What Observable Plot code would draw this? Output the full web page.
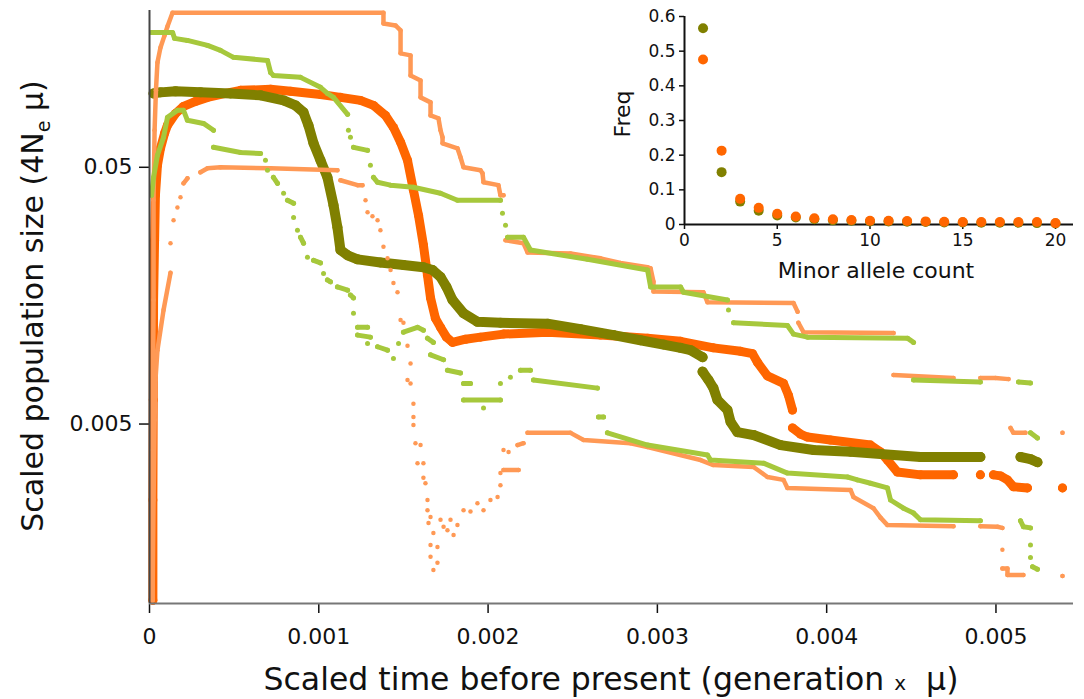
<!DOCTYPE html>
<html><head><meta charset="utf-8">
<script src="https://cdn.jsdelivr.net/npm/d3@7"></script>
<script src="https://cdn.jsdelivr.net/npm/@observablehq/plot@0.6"></script>
<style>
html,body{margin:0;padding:0;background:#fff;}
#chart{position:relative;width:1084px;height:699px;}
#chart > svg{position:absolute;left:0;top:0;}
</style></head><body><div id="chart"></div>
<script>
// ---- main chart data: [scaled time, scaled population size]; null = gap ----
const olive = [
[0.000024,0.0970],[0.000065,0.0979],[0.000154,0.0988],[0.000301,0.0979],[0.000478,0.0970],[0.000656,0.0953],[0.000792,0.0911],[0.000862,0.0871],[0.000910,0.0818],[0.000939,0.0728],[0.000969,0.0620],[0.00101,0.0532],[0.001051,0.0457],[0.001087,0.0356],[0.00111,0.0292],[0.001128,0.0238],[0.00117,0.0227],[0.001229,0.0219],[0.001364,0.0213],[0.0015,0.0208],[0.001618,0.0204],[0.001672,0.0199],[0.001719,0.0187],[0.001754,0.0171],[0.00179,0.0152],[0.001855,0.0135],[0.001937,0.0125],[0.002073,0.0124],[0.002351,0.0123],[0.002546,0.0117],[0.002741,0.0111],[0.0029,0.0106],[0.003036,0.0102],[0.003137,0.0099],[0.003196,0.0097],[0.003267,0.0091],null,
[0.003267,0.0080],[0.003302,0.00742],[0.003331,0.0069],[0.003355,0.0062],[0.003414,0.00567],[0.003432,0.0051],[0.003473,0.00465],[0.003568,0.00453],[0.003727,0.00414],[0.003922,0.00396],[0.004141,0.0039],[0.004554,0.00372],[0.004908,0.00372],null,
[0.005145,0.00372],[0.005204,0.00365],[0.005245,0.00355]];

const orange = [
[0.00002,0.00103],[0.00002,0.00253],[0.000022,0.0062],[0.000024,0.0152],[0.00003,0.026],[0.000035,0.0389],[0.000047,0.0509],[0.000065,0.0593],[0.000089,0.0678],[0.000106,0.0728],[0.000154,0.0810],[0.000201,0.0863],[0.000272,0.0903],[0.000343,0.0936],[0.000449,0.0970],[0.000538,0.0997],[0.000715,0.1006],[0.000833,0.0988],[0.00101,0.0961],[0.001128,0.0936],[0.001246,0.0911],[0.001323,0.0871],[0.001394,0.0796],[0.001441,0.0715],[0.001483,0.0626],[0.001524,0.0532],[0.001559,0.0407],[0.001589,0.0325],[0.001618,0.0249],[0.001642,0.0190],[0.00166,0.0155],[0.001689,0.0129],[0.001719,0.0119],[0.001754,0.0109],[0.00179,0.0104],[0.001867,0.0107],[0.001955,0.0109],[0.002091,0.0112],[0.002351,0.0114],[0.002664,0.0111],[0.002942,0.0108],[0.003137,0.0105],[0.003331,0.0099],[0.003491,0.0096],[0.003562,0.0094],[0.003591,0.0087],[0.00365,0.0077],[0.003745,0.0072],[0.003774,0.00648],[0.003798,0.00567],null,
[0.003798,0.00483],[0.003845,0.00457],[0.003887,0.00445],[0.004022,0.00433],[0.004259,0.00414],[0.004318,0.00389],[0.004359,0.00362],[0.004418,0.00325],[0.004554,0.00317],[0.004749,0.00317],null,
[0.004908,0.00317],null,
[0.004985,0.00317],[0.005027,0.00314],[0.005068,0.00303],[0.005103,0.00285],[0.005186,0.00282],null,
[0.005393,0.00282]];

const orangeHi = [
[0.000018,0.00103],[0.000018,0.00396],[0.000024,0.0152],[0.000024,0.0372],[0.00003,0.0697],[0.000038,0.0997],[0.000047,0.1281],[0.000065,0.1465],[0.000089,0.1632],[0.000106,0.1768],[0.000136,0.2],[0.001382,0.2],[0.001382,0.1815],[0.001453,0.1784],[0.001483,0.1706],[0.001483,0.1389],[0.001542,0.1364],[0.001542,0.1140],[0.001601,0.1090],[0.001601,0.0936],[0.00166,0.0895],[0.00166,0.0796],[0.001707,0.0775],[0.001719,0.0697],[0.001731,0.0654],[0.001731,0.0620],[0.001819,0.0593],[0.001837,0.0547],[0.001855,0.05],[0.001955,0.0487],[0.001967,0.0474],[0.001973,0.0437],[0.002061,0.0426],[0.002073,0.0389],[0.002091,0.0389],null,
[0.002103,0.0260],[0.002209,0.0253],[0.002233,0.0233],[0.002487,0.0231],[0.002664,0.0221],[0.002782,0.0212],[0.002942,0.0204],[0.00296,0.0202],[0.002977,0.0179],[0.002977,0.0164],[0.003272,0.0163],[0.003296,0.0149],[0.003804,0.0148],[0.003828,0.0137],null,
[0.003833,0.0124],[0.003863,0.0114],[0.004395,0.0113],null,
[0.004395,0.00776],[0.004749,0.00755],null,
[0.004908,0.00755],[0.004997,0.00755],[0.005074,0.00748],null,
[0.005086,0.00483],[0.005103,0.00462],[0.005174,0.00462],null,
[0.005393,0.00462]];

const orangeLo = [
[0.000018,0.00103],[0.000024,0.00253],[0.00003,0.00518],[0.000035,0.00742],[0.000047,0.0097],[0.000083,0.0139],[0.000124,0.0194],null,
[0.000201,0.0433],[0.000224,0.0453],null,
[0.000301,0.0478],[0.000343,0.0496],[0.000419,0.05],[0.000715,0.0496],[0.00111,0.0487],null,
[0.001128,0.0445],[0.001229,0.0426],[0.001258,0.0426],null,
[0.002091,0.00331],[0.00218,0.00331],null,
[0.002174,0.00414],[0.002209,0.00421],null,
[0.002233,0.00462],[0.002487,0.00462],[0.002564,0.00433],[0.002841,0.00421],[0.002942,0.00407],[0.003255,0.00362],[0.003331,0.00346],[0.003568,0.0034],[0.00365,0.00311],[0.003745,0.00303],[0.003768,0.00282],[0.004141,0.00277],[0.004158,0.0026],[0.004276,0.00235],[0.004318,0.00216],[0.004359,0.00202],[0.004749,0.002],null,
[0.004908,0.002],[0.005009,0.00199],[0.005038,0.00197],null,
[0.005038,0.00137],[0.005068,0.00137],[0.005068,0.00129],[0.005162,0.00129],null,
[0.005393,0.00128]];
const orangeLoDots = [
[0.000124,0.0253],[0.000142,0.0311],[0.000165,0.0349],[0.000183,0.0382],[0.005038,0.00162],
[0.001276,0.0372],[0.001288,0.0334],[0.001317,0.0322],[0.001347,0.0311],[0.001364,0.0284],[0.001382,0.0245],[0.001406,0.0221],[0.001424,0.0199],[0.001441,0.0177],[0.001465,0.0163],[0.001483,0.0127],[0.0015,0.0124],[0.001524,0.0101],[0.001542,0.0086],[0.001524,0.00742],[0.001542,0.0072],[0.001559,0.006],[0.001559,0.00532],[0.001559,0.00496],[0.001571,0.00421],[0.001601,0.00414],[0.001583,0.00352],[0.001618,0.00352],[0.001618,0.00309],[0.00163,0.00294],[0.001642,0.00253],[0.001642,0.00231],[0.00166,0.00217],[0.001648,0.00206],[0.001677,0.00188],[0.00166,0.00169],[0.001701,0.00166],[0.00166,0.00152],[0.001701,0.00144],[0.001677,0.00135],
[0.001719,0.00212],[0.001737,0.00199],[0.00176,0.00193],[0.001778,0.00212],[0.001796,0.00185],[0.001819,0.00202],[0.001855,0.00231],[0.001896,0.00228],[0.001937,0.00246],[0.001973,0.00231],[0.002014,0.00253],[0.002056,0.0026],[0.002073,0.00289],[0.002073,0.00322],[0.002091,0.00396],[0.002121,0.00389]];

const greenHi = [
[0.000012,0.1676],[0.000136,0.1676],[0.000148,0.1589],[0.000224,0.156],[0.000343,0.1492],[0.000419,0.1427],[0.000496,0.134],[0.000697,0.1304],[0.000715,0.1171],[0.000732,0.114],[0.000892,0.112],[0.00101,0.1024],[0.001051,0.097],[0.001087,0.0936],[0.00117,0.0804],null,
[0.001205,0.0598],[0.001288,0.0582],null,
[0.001323,0.0457],[0.001347,0.0437],[0.001424,0.0426],[0.001559,0.0418],[0.001719,0.0396],[0.001819,0.0372],[0.002073,0.0372],null,
[0.002115,0.0267],[0.002209,0.0267],[0.00225,0.0238],[0.002587,0.0219],[0.002942,0.0199],[0.00296,0.0171],[0.003137,0.0171],[0.003154,0.0163],[0.003414,0.0152],null,
[0.00345,0.0124],[0.003768,0.0121],[0.003804,0.0112],[0.003887,0.0109],[0.004477,0.0108],[0.004513,0.0104],null,
[0.004513,0.00742],[0.004908,0.00729],null,
[0.005133,0.00729],[0.005204,0.00722],null,
[0.005204,0.00462],[0.005245,0.00441]];
const greenHiDots = [[0.001175,0.0697],[0.001187,0.0654],[0.001305,0.0509],[0.002085,0.0331],[0.002103,0.0297],[0.00342,0.0139]];

const greenLo = [
[0.000012,0.0389],[0.000024,0.0457],[0.000047,0.0557],[0.000083,0.0654],[0.000106,0.0782],[0.000165,0.0833],[0.000201,0.0833],[0.000224,0.0762],[0.000319,0.0741],[0.000378,0.0697],null,
[0.000378,0.0598],[0.000538,0.0571],[0.000656,0.0566],null,
[0.000732,0.0457],[0.000756,0.0433],null,
[0.000815,0.0372],[0.000851,0.0362],null,
[0.000892,0.0267],[0.00091,0.0253],null,
[0.000969,0.0217],[0.00101,0.0212],null,
[0.001051,0.0182],[0.001069,0.0179],null,
[0.00111,0.0171],[0.00117,0.0166],null,
[0.001187,0.0159],[0.001205,0.0155],null,
[0.001229,0.0119],[0.001288,0.0119],null,
[0.001229,0.0111],[0.001305,0.0109],null,
[0.001347,0.0100],[0.001406,0.0097],null,
[0.0015,0.0114],[0.001583,0.0119],[0.001618,0.0116],null,
[0.001642,0.0108],[0.001677,0.0104],null,
[0.00166,0.0093],[0.001737,0.0089],null,
[0.00176,0.0081],[0.001837,0.0079],null,
[0.001855,0.0072],[0.001896,0.0072],null,
[0.001855,0.0062],[0.002073,0.0062],null,
[0.002191,0.0081],[0.00225,0.0081],null,
[0.002268,0.00742],[0.002646,0.0069],null,
[0.002652,0.00532],[0.002682,0.00532],null,
[0.002705,0.00462],[0.002942,0.00414],[0.003296,0.00379],[0.003314,0.00362],[0.003627,0.00352],[0.003768,0.00322],[0.004123,0.00311],[0.004182,0.00303],[0.004259,0.00294],[0.004359,0.00282],[0.004377,0.00253],[0.004454,0.00235],[0.004513,0.00225],[0.004554,0.00212],[0.004908,0.0021],null,
[0.005145,0.0021],[0.005162,0.00199],[0.005204,0.00197],null,
[0.005216,0.00139],[0.005245,0.00136]];
const greenLoDots = [[0.000685,0.0532],[0.000697,0.0487],[0.000792,0.0396],[0.000851,0.0319],[0.000874,0.0284],[0.000933,0.0223],[0.001028,0.0193],[0.001205,0.0135],[0.001288,0.0103],[0.001441,0.0090],[0.001471,0.0103],[0.001973,0.00577],[0.002073,0.0072],[0.002132,0.0076],[0.005204,0.00169],[0.005204,0.00151]];

const xTicks = [0, 0.001, 0.002, 0.003, 0.004, 0.005];
const xTickLabels = ["0", "0.001", "0.002", "0.003", "0.004", "0.005"];
const yTicks = [0.005, 0.05];
const yTickLabels = ["0.005", "0.05"];

// ---- inset data (site frequency spectrum) ----
const sfsCount = [1,2,3,4,5,6,7,8,9,10,11,12,13,14,15,16,17,18,19,20];
const sfsOlive = [0.566,0.151,0.066,0.040,0.026,0.020,0.015,0.012,0.011,0.009,0.009,0.008,0.007,0.006,0.006,0.005,0.005,0.005,0.004,0.003];
const sfsOrange = [0.476,0.213,0.074,0.048,0.031,0.023,0.018,0.015,0.013,0.011,0.011,0.010,0.009,0.008,0.007,0.007,0.007,0.007,0.007,0.004];
const insetXTicks = [0,5,10,15,20];
const insetYTicks = [0,0.1,0.2,0.3,0.4,0.5,0.6];

const C = {olive:"#808000", orange:"#ff6600", lightOrange:"#ff9955", lightGreen:"#a6c83c"};
const FONT = "'DejaVu Sans', sans-serif";

function series(data, color, w, extra = []) {
  return [
    Plot.line(data, {x: d => d ? d[0] : NaN, y: d => d ? d[1] : NaN, stroke: color, strokeWidth: w, strokeLinecap: "round", strokeLinejoin: "round"}),
    Plot.dot(data.filter(Boolean).concat(extra), {x: d => d[0], y: d => d[1], r: w / 2, fill: color})
  ];
}

const main = Plot.plot({
  width: 1084, height: 699,
  marginLeft: 149, marginRight: 11, marginTop: 10, marginBottom: 96,
  style: {fontFamily: FONT, background: "transparent", color: "#111", overflow: "visible"},
  x: {domain: [0, 0.005458]},
  y: {type: "log", domain: [0.001, 0.204]},
  marks: [
    ...series(orange, C.orange, 9),
    ...series(olive, C.olive, 10),
    ...series(orangeLo, C.lightOrange, 4.5, orangeLoDots),
    ...series(orangeHi, C.lightOrange, 4.5),
    ...series(greenLo, C.lightGreen, 5, greenLoDots),
    ...series(greenHi, C.lightGreen, 5, greenHiDots),
    Plot.axisX({ticks: xTicks, tickFormat: d => xTickLabels[xTicks.indexOf(d)], tickSize: 10, tickPadding: 15, fontSize: 22, label: null, strokeWidth: 1.5}),
    Plot.axisY({ticks: yTicks, tickFormat: d => yTickLabels[yTicks.indexOf(d)], tickSize: 10, tickPadding: 7, fontSize: 22, label: null, strokeWidth: 1.5}),
    Plot.ruleY([0.001], {stroke: "#777", strokeWidth: 2}),
    Plot.ruleX([0], {stroke: "#444", strokeWidth: 2})
  ]
});

const inset = Plot.plot({
  width: 1084, height: 300,
  marginLeft: 684, marginRight: 11, marginTop: 16, marginBottom: 76,
  style: {fontFamily: FONT, background: "transparent", color: "#111"},
  x: {domain: [0, 20.97]},
  y: {domain: [0, 0.6]},
  marks: [
    Plot.axisX({ticks: insetXTicks, tickSize: 5, tickPadding: 4, fontSize: 17, label: null, strokeWidth: 1.5}),
    Plot.axisY({ticks: insetYTicks, tickFormat: d => String(d), tickSize: 5, tickPadding: 4, fontSize: 17, label: null, strokeWidth: 1.5}),
    Plot.ruleX([0], {y1: 0, y2: 0.6, stroke: "#111", strokeWidth: 2}),
    Plot.ruleY([0], {stroke: "#111", strokeWidth: 2}),
    Plot.dot(sfsCount, {x: d => d, y: (d, i) => sfsOlive[i], r: 5, fill: C.olive}),
    Plot.dot(sfsCount, {x: d => d, y: (d, i) => sfsOrange[i], r: 5, fill: C.orange})
  ]
});

const chart = document.getElementById("chart");
chart.appendChild(main);
chart.appendChild(inset);

const svg = d3.select(main);
// y axis label
const yl = svg.append("text").attr("transform", "translate(43,306) rotate(-90)")
  .attr("text-anchor", "middle").attr("font-size", 30).attr("fill", "#111");
yl.append("tspan").text("Scaled population size (4N");
yl.append("tspan").attr("font-size", 19).attr("dy", 7).text("e");
yl.append("tspan").attr("dy", -7).text(" μ)");
// x axis label
const xl = svg.append("text").attr("x", 611).attr("y", 690)
  .attr("text-anchor", "middle").attr("font-size", 31.5).attr("fill", "#111").style("white-space", "pre");
xl.append("tspan").text("Scaled time before present (generation ");
xl.append("tspan").attr("font-size", 20).text("x");
xl.append("tspan").text("  μ)");
// inset labels
svg.append("text").attr("transform", "translate(630,114) rotate(-90)")
  .attr("text-anchor", "middle").attr("font-size", 22).attr("fill", "#111").text("Freq");
svg.append("text").attr("x", 876).attr("y", 278)
  .attr("text-anchor", "middle").attr("font-size", 22).attr("fill", "#111").text("Minor allele count");
</script>
</body></html>
